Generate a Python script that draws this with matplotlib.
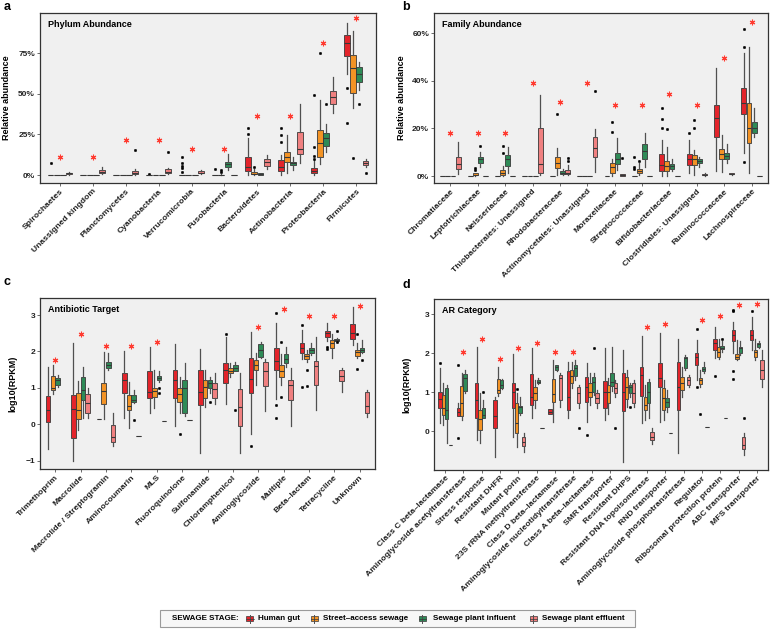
import matplotlib
matplotlib.use('Agg')
import matplotlib.pyplot as plt
from matplotlib.patches import Rectangle
from matplotlib.lines import Line2D

plt.rcParams['font.family'] = ['Liberation Sans', 'DejaVu Sans']

W, H = 773, 635
fig = plt.figure(figsize=(W / 100, H / 100), dpi=100)

GROUPS = ['Human gut', 'Street\u2013access sewage', 'Sewage plant influent', 'Sewage plant effluent']
COLORS = ['#E3242B', '#F39325', '#2E8B57', '#F08080']
EDGE = '#383838'
WHISK = '#505050'
BG = '#F0F0F0'
STAR = '#FF3B30'

# ---------------- Panel a: Phylum abundance (%) ----------------
a_cats = ['Spirochaetes', 'Unassigned kingdom', 'Planctomycetes', 'Cyanobacteria', 'Verrucomicrobia',
          'Fusobacteria', 'Bacteroidetes', 'Actinobacteria', 'Proteobacteria', 'Firmicutes']
# (whisker low, q1, median, q3, whisker high)
a_gut = [(0, 0, 0, 0, 0), (0, 0, 0, 0, 0), (0, 0, 0, 0, 0), (0, 0, 0, 0, 0), (0, 0, 0, 0, 0),
         (0, 0, 0, 0, 0), (0, 2.7, 5.1, 11.3, 22.6), (0, 2.3, 4.7, 9.2, 12.3), (0, 1.0, 2.7, 4.5, 9.0),
         (62, 73.3, 81.1, 86.2, 93.4)]
a_gut_out = [[7.5], [], [], [0.8], [11.3, 7.2, 5.7, 4.1, 2.0], [3.5], [29.2, 25.0], [28.7, 24.6, 20.5],
             [49.3, 17.5, 12.0, 10.0], [53.8, 31.8]]
a_street = [(0, 0, 0, 0, 0), (0, 0, 0, 0, 0), (0, 0, 0, 0, 0), (0, 0, 0, 0, 0), (0, 0, 0, 0, 0),
            (0, 0, 0, 0.3, 0.8), (0, 0.4, 0.8, 1.6, 3.5), (1.0, 8.2, 11.3, 14.4, 24.6),
            (6.8, 11.3, 19.9, 27.7, 46.0), (41.0, 50.3, 65.7, 73.9, 88.9)]
a_street_out = [[], [], [], [], [], [3.0, 2.0], [5.1], [], [75.0], [10.3]]
a_infl = [(0, 0, 0, 0, 0), (0, 0, 0, 0, 0), (0, 0, 0, 0, 0), (0, 0, 0, 0, 0), (0, 0, 0, 0, 0),
          (3.0, 5.1, 6.8, 7.8, 12.7), (0, 0.3, 0.5, 1.0, 1.5), (3.1, 6.2, 7.2, 8.2, 11.3),
          (14.4, 18.0, 23.0, 26.0, 31.4), (52.4, 57.5, 62.2, 66.3, 69.8)]
a_infl_out = [[], [], [], [], [], [], [], [], [43.5], [43.5]]
a_effl = [(0.2, 0.5, 1.0, 1.5, 2.0), (0.5, 1.0, 2.0, 3.0, 5.0), (0.3, 0.6, 1.5, 2.7, 4.0),
          (0.5, 1.0, 2.0, 3.5, 4.5), (0.5, 1.0, 1.5, 2.5, 3.0), (0, 0, 0, 0, 0),
          (3.7, 5.7, 7.8, 9.6, 12.3), (7.2, 12.9, 16.0, 26.3, 43.5), (38.0, 43.7, 48.2, 51.7, 60.6),
          (5.1, 6.2, 7.6, 8.8, 9.6)]
a_effl_out = [[], [], [15.4], [14.4], [], [], [], [], [], [1.4]]
a_stars = [11.3, 11.3, 21.4, 21.4, 16.2, 16.2, 36.1, 36.1, 81.5, 96.5]

# ---------------- Panel b: Family abundance (%) ----------------
b_cats = ['Chromatiaceae', 'Leptotrichiaceae', 'Neisseriaceae', 'Thiobacterales: Unassigned',
          'Rhodobacteraceae', 'Actinomycetales: Unassigned', 'Moraxellaceae', 'Streptococcaceae',
          'Bifidobacteriaceae', 'Clostridiales: Unassigned', 'Ruminococcaceae', 'Lachnospiraceae']
b_gut = [(0, 0, 0, 0, 0)] * 8 + [(0, 2.1, 4.6, 9.2, 15.1), (1.4, 4.6, 7.0, 9.2, 15.0),
                                 (2.1, 16.5, 24.6, 29.8, 45.2), (9.8, 25.9, 30.8, 37.1, 51.5)]
b_gut_out = [[], [], [], [], [], [], [], [8.1, 3.9, 2.8], [28.7, 23.8, 20.3], [18.2], [], [61.6, 54.3, 5.9]]
b_street = [(0, 0, 0, 0, 0), (0, 0.3, 0.5, 1.1, 1.5), (0, 0.3, 1.1, 2.4, 4.2), (0, 0, 0, 0, 0),
            (0.3, 3.2, 5.3, 8.1, 11.6), (0, 0, 0, 0, 0), (0, 1.4, 3.9, 5.6, 7.1), (0.3, 1.1, 2.1, 2.9, 5.3),
            (0, 2.2, 4.3, 6.4, 12.3), (0.5, 4.6, 7.0, 8.8, 11.0), (1.8, 7.0, 9.2, 11.3, 17.2),
            (1.1, 14.0, 20.0, 30.9, 54.3)]
b_street_out = [[], [2.5, 3.2], [12.7, 9.9], [], [25.9], [], [22.8, 18.6], [6.3], [19.6], [23.5, 20.3], [], []]
b_infl = [(0, 0, 0, 0, 0), (3.9, 5.3, 7.0, 8.1, 10.2), (1.1, 4.3, 7.0, 8.8, 12.3), (0, 0, 0, 0, 0),
          (0.5, 1.0, 1.5, 2.0, 3.0), (0, 0, 0, 0, 0), (2.5, 5.0, 7.0, 9.9, 16.1), (3.9, 7.0, 10.5, 13.3, 18.2),
          (2.0, 2.9, 4.3, 5.0, 7.0), (3.9, 5.3, 6.2, 7.0, 8.1), (5.6, 7.0, 8.5, 9.5, 13.3),
          (16.5, 17.9, 20.0, 22.8, 28.4)]
b_infl_out = [[], [12.7], [], [], [], [], [], [], [], [], [], []]
b_effl = [(0.7, 2.8, 5.0, 8.1, 14.4), (0, 0, 0, 0, 0), (0, 0, 0, 0, 0), (0.4, 1.1, 5.0, 20.0, 34.0),
          (0.3, 0.8, 1.5, 2.5, 4.6), (1.8, 8.1, 11.6, 16.5, 19.6), (0, 0.2, 0.5, 0.8, 1.0), (0, 0, 0, 0, 0),
          (0, 0, 0, 0, 0), (0, 0.3, 0.6, 1.0, 1.2), (0.5, 0.8, 1.0, 1.2, 1.5), (0, 0, 0, 0, 0)]
b_effl_out = [[], [], [], [], [7.5, 6.5], [35.7], [7.8], [], [], [], [], []]
b_stars = [18.2, 18.2, 18.2, 38.9, 31.2, 39.2, 29.8, 29.8, 34.3, 29.8, 49.8, 64.8]

# ---------------- Panel c: Antibiotic target, log10(RPKM) ----------------
c_cats = ['Trimethoprim', 'Macrolide', 'Macrolide / Streptogramin', 'Aminocoumarin', 'MLS',
          'Fluoroquinolone', 'Sulfonamide', 'Chloramphenicol', 'Aminoglycoside', 'Multiple',
          'Beta\u2013lactam', 'Tetracycline', 'Unknown']
c_gut = [(-0.68, 0.05, 0.38, 0.79, 1.58), (-1.0, -0.37, 0.41, 0.8, 2.24), (0.15, 0.15, 0.15, 0.15, 0.15),
         (0.18, 0.87, 1.22, 1.42, 2.02), (0.3, 0.71, 0.88, 1.46, 2.13), (-0.05, 0.73, 1.22, 1.49, 2.2),
         (-0.78, 0.53, 0.9, 1.49, 2.06), (0.56, 1.14, 1.49, 1.67, 2.4), (-0.27, 0.87, 1.24, 1.81, 2.53),
         (0.69, 1.49, 1.74, 2.09, 2.77), (1.78, 1.95, 2.1, 2.24, 2.59), (2.3, 2.41, 2.5, 2.57, 2.77),
         (2.18, 2.34, 2.5, 2.75, 3.23)]
c_gut_out = [[], [], [], [], [], [], [], [2.48], [-0.6], [3.05, 0.53, 0.16], [2.73, 1.02], [2.13, 2.06], []]
c_street = [(0.83, 0.94, 1.01, 1.33, 1.63), (-0.15, 0.15, 0.4, 0.87, 1.2), (0.15, 0.55, 0.91, 1.13, 1.99),
            (-0.09, 0.38, 0.5, 0.8, 1.17), (0.44, 0.76, 0.92, 1.01, 1.49), (0.32, 0.62, 0.83, 0.99, 1.31),
            (0.48, 0.71, 1.02, 1.22, 1.49), (1.31, 1.4, 1.47, 1.54, 1.67), (1.08, 1.49, 1.63, 1.77, 1.95),
            (1.08, 1.29, 1.45, 1.63, 1.92), (1.72, 1.78, 1.88, 1.93, 2.04), (1.81, 2.09, 2.24, 2.31, 2.48),
            (1.81, 1.88, 1.98, 2.04, 2.24)]
c_street_out = [[], [], [], [], [], [-0.27], [], [], [], [2.27, 0.76], [1.49, 1.05], [], [2.48, 1.51]]
c_infl = [(1.03, 1.08, 1.22, 1.26, 1.35), (0.16, 0.67, 0.94, 1.31, 1.58), (1.49, 1.54, 1.63, 1.72, 1.95),
          (0.58, 0.62, 0.67, 0.8, 0.94), (1.17, 1.22, 1.26, 1.33, 1.45), (0.23, 0.3, 0.99, 1.22, 1.67),
          (0.85, 0.99, 1.13, 1.22, 1.31), (1.45, 1.47, 1.54, 1.63, 1.72), (1.81, 1.86, 2.04, 2.2, 2.27),
          (1.58, 1.67, 1.78, 1.93, 2.13), (1.9, 1.95, 2.04, 2.09, 2.24), (2.27, 2.29, 2.31, 2.34, 2.36),
          (1.95, 1.98, 2.04, 2.09, 2.31)]
c_infl_out = [[], [], [], [0.12], [0.99, 0.87], [], [0.6], [0.39], [], [], [], [2.57, 2.27], [1.77]]
c_effl = [None, (0.16, 0.3, 0.58, 0.82, 0.99), (-0.61, -0.5, -0.34, -0.02, 0.3), (-0.31,) * 5, (0.1,) * 5,
          (0.12,) * 5, (0.56, 0.71, 0.96, 1.14, 1.4), (-0.78, -0.05, 0.48, 0.96, 1.4),
          (0.37, 1.05, 1.47, 1.72, 1.78), (-0.05, 0.67, 1.08, 1.22, 1.54), (0.39, 1.08, 1.6, 1.74, 2.41),
          (0.9, 1.19, 1.33, 1.49, 1.54), (0.19, 0.3, 0.5, 0.88, 0.94)]
c_effl_out = [[] for _ in c_cats]
c_stars = [1.77, 2.47, 2.16, 2.16, 2.27, None, None, None, 2.66, 3.16, 2.97, 2.97, 3.26]

# ---------------- Panel d: AR category, log10(RPKM) ----------------
d_cats = ['Class C beta\u2013lactamase', 'Aminoglycoside acetyltransferase', 'Stress response',
          'Resistant DHFR', 'Mutant porin', '23S rRNA methyltransferase', 'Class D beta\u2013lactamase',
          'Aminoglycoside nucleotidyltransferase', 'Class A beta\u2013lactamase', 'SMR transporter',
          'Resistant DHPS', 'Resistant DNA topoisomerase', 'RND transporter',
          'Aminoglycoside phosphotransferase', 'Regulator', 'Ribosomal protection protein',
          'ABC transporter', 'MFS transporter']
d_gut = [(0.2, 0.58, 0.81, 1.01, 1.61), (0.39, 0.39, 0.5, 0.58, 0.71), (-0.23, 0.33, 0.8, 1.24, 2.17),
         (-0.66, 0.07, 0.39, 0.8, 0.88), (-0.15, 0.58, 0.99, 1.23, 1.97), (0.33, 0.67, 0.88, 1.47, 2.14),
         (0.45, 0.45, 0.5, 0.57, 0.57), (0.33, 0.54, 0.88, 1.53, 1.78), (0.24, 0.75, 1.12, 1.38, 1.74),
         (0.28, 0.58, 0.99, 1.29, 2.13), (-0.8, 0.51, 1.01, 1.48, 2.08), (0.2, 0.9, 1.44, 1.65, 2.43),
         (0.24, 1.14, 1.35, 1.74, 2.51), (-0.56, 0.54, 1.14, 1.78, 2.36), (1.31, 1.7, 1.91, 2.01, 2.34),
         (1.87, 2.08, 2.25, 2.36, 2.68), (2.0, 2.3, 2.47, 2.6, 2.81), (2.08, 2.34, 2.47, 2.6, 2.94)]
d_gut_out = [[1.74], [1.7, -0.17], [], [], [], [], [], [], [-0.1], [], [], [], [], [], [2.61, 1.12],
             [1.41], [3.11, 3.07, 1.53, 1.33], [3.09]]
d_street = [(0.15, 0.41, 0.58, 0.93, 1.23), (0.28, 0.39, 0.71, 1.16, 1.5), (-0.3, 0.03, 0.3, 0.54, 0.97),
            (0.9, 0.97, 1.05, 1.34, 1.65), (-0.4, -0.06, 0.2, 0.71, 0.97), (0.58, 0.8, 0.97, 1.12, 1.31),
            (0.24, 0.75, 0.94, 1.33, 1.83), (1.1, 1.23, 1.41, 1.57, 1.78), (0.67, 0.88, 1.01, 1.23, 1.48),
            (0.45, 0.71, 0.99, 1.18, 1.35), (0.63, 0.81, 1.12, 1.38, 1.57), (0.28, 0.54, 0.67, 0.88, 1.18),
            (0.28, 0.54, 0.84, 1.1, 1.31), (0.87, 1.05, 1.23, 1.4, 1.65), (1.12, 1.21, 1.31, 1.35, 1.57),
            (1.84, 1.89, 2.04, 2.17, 2.36), (1.82, 1.84, 1.91, 1.97, 2.34), (1.83, 1.89, 2.02, 2.08, 2.36)]
d_street_out = [[], [], [], [], [1.07], [], [], [], [], [], [], [], [], [], [0.43], [], [], []]
d_infl = [(-0.3, 0.3, 0.54, 1.1, 1.18), (0.97, 1.04, 1.35, 1.47, 1.57), (0.33, 0.33, 0.41, 0.58, 0.8),
          (1.08, 1.1, 1.18, 1.31, 1.33), (0.41, 0.47, 0.63, 0.64, 0.88), (1.2, 1.23, 1.27, 1.31, 1.35),
          (1.55, 1.57, 1.65, 1.7, 1.7), (1.31, 1.41, 1.61, 1.7, 1.83), (0.93, 1.01, 1.27, 1.38, 1.48),
          (1.04, 1.16, 1.27, 1.5, 2.17), (0.88, 0.97, 1.12, 1.18, 1.23), (0.33, 0.71, 1.01, 1.27, 1.33),
          (0.5, 0.61, 0.75, 0.84, 1.05), (1.57, 1.61, 1.87, 1.91, 1.95), (1.5, 1.54, 1.6, 1.65, 1.78),
          (2.04, 2.1, 2.14, 2.18, 2.3), (1.95, 2.0, 2.13, 2.17, 2.3), (2.12, 2.15, 2.23, 2.27, 2.3)]
d_infl_out = [[], [], [1.01], [], [], [], [], [], [2.14], [], [0.61], [], [], [], [], [2.36], [], []]
d_effl = [(-0.36,) * 5, None, None, None, (-0.53, -0.39, -0.27, -0.15, -0.06), (0.09,) * 5,
          (0.63, 0.8, 1.35, 1.44, 1.48), (0.58, 0.71, 0.97, 1.12, 1.18), (0.6, 0.71, 0.84, 0.97, 1.05),
          (0.88, 0.97, 1.1, 1.23, 1.31), (0.63, 0.71, 0.97, 1.23, 1.31), (-0.32, -0.23, -0.15, -0.02, 0.07),
          (-0.06,) * 5, (1.12, 1.18, 1.31, 1.4, 1.45), (0.11,) * 5, (0.34,) * 5,
          (-0.62, -0.47, -0.36, -0.15, -0.06), (1.14, 1.33, 1.57, 1.83, 2.08)]
d_effl_out = [[], [], [], [], [], [], [], [0.09], [], [0.09], [], [], [], [], [], [], [0.33], []]
d_stars = [None, 2.04, 2.36, 1.84, 2.14, 2.25, 2.04, 2.04, None, None, None, 2.66, 2.74, None, 2.85, 2.96,
           3.24, 3.26]

SLOT = 0.1875
BOXW = 0.18


def rect(x0, y0, x1, y1):
    return [x0 / W, 1 - y1 / H, (x1 - x0) / W, (y1 - y0) / H]


def panel(r, cats, groups, outs, stars, ylim, yticks, yticklabels, ylabel, title, ylab_px):
    ax = fig.add_axes(r)
    ax.set_facecolor(BG)
    n = len(cats)
    for g, (stats, fl, col) in enumerate(zip(groups, outs, COLORS)):
        off = (g - 1.5) * SLOT
        bst, pos = [], []
        for i, s in enumerate(stats):
            if s is None:
                continue
            lo, q1, med, q3, hi = s
            bst.append(dict(whislo=lo, q1=q1, med=med, q3=q3, whishi=hi, fliers=fl[i]))
            pos.append(i + 1 + off)
        ax.bxp(bst, positions=pos, widths=BOXW, patch_artist=True, showcaps=False, manage_ticks=False,
               boxprops=dict(facecolor=col, edgecolor=EDGE, linewidth=0.6),
               whiskerprops=dict(color=WHISK, linewidth=0.9),
               medianprops=dict(color=EDGE, linewidth=0.8),
               flierprops=dict(marker='o', markersize=1.8, markerfacecolor='black',
                               markeredgecolor='black', markeredgewidth=0.3))
    xs = [i + 1 for i, s in enumerate(stars) if s is not None]
    ys = [s for s in stars if s is not None]
    ax.plot(xs, ys, ls='none', marker=(6, 2, 0), ms=4, mew=0.8, color=STAR, zorder=5)
    ax.set_xlim(0.4, n + 0.6)
    ax.set_ylim(*ylim)
    ax.set_xticks(range(1, n + 1))
    ax.set_xticklabels(cats, rotation=45, ha='right', va='top', rotation_mode='anchor',
                       fontsize=6.1, fontweight='bold', color='#222222')
    ax.set_yticks(yticks)
    ax.set_yticklabels(yticklabels, fontsize=6, fontweight='bold', color='#222222')
    ax.tick_params(length=2, width=0.5, color='#333333', pad=1.5)
    for sp in ax.spines.values():
        sp.set_color('#333333')
        sp.set_linewidth(0.9)
    # y-axis title, centred at a fixed pixel x position
    fig.text(ylab_px / W, r[1] + r[3] / 2, ylabel, rotation=90, fontsize=6.5, fontweight='bold',
             ha='center', va='center')
    ax.text(0.024, 0.935, title, transform=ax.transAxes, fontsize=6.5, fontweight='bold', va='center')
    return ax


panel(rect(40, 13, 376, 183), a_cats, [a_gut, a_street, a_infl, a_effl],
      [a_gut_out, a_street_out, a_infl_out, a_effl_out], a_stars, (-4.9, 99.7), [0, 25, 50, 75],
      ['0%', '25%', '50%', '75%'], 'Relative abundance', 'Phylum Abundance', 7)
panel(rect(434, 13, 768, 183), b_cats, [b_gut, b_street, b_infl, b_effl],
      [b_gut_out, b_street_out, b_infl_out, b_effl_out], b_stars, (-2.9, 68.5), [0, 20, 40, 60],
      ['0%', '20%', '40%', '60%'], 'Relative abundance', 'Family Abundance', 401)
panel(rect(40, 298, 375, 469), c_cats, [c_gut, c_street, c_infl, c_effl],
      [c_gut_out, c_street_out, c_infl_out, c_effl_out], c_stars, (-1.23, 3.47), [-1, 0, 1, 2, 3],
      ['\u22121', '0', '1', '2', '3'], 'log10(RPKM)', 'Antibiotic Target', 13)
panel(rect(434, 299, 768, 470), d_cats, [d_gut, d_street, d_infl, d_effl],
      [d_gut_out, d_street_out, d_infl_out, d_effl_out], d_stars, (-1.0, 3.39), [0, 1, 2, 3],
      ['0', '1', '2', '3'], 'log10(RPKM)', 'AR Category', 407)

for letter, x, y in [('a', 7, 7), ('b', 406, 7), ('c', 7, 282), ('d', 406, 285)]:
    fig.text(x / W, 1 - y / H, letter, fontsize=9, fontweight='bold', ha='center', va='center')

# ---------------- Legend ----------------
LX0, LX1, LY0, LY1 = 160, 635, 610, 627
fig.patches.append(Rectangle((LX0 / W, 1 - LY1 / H), (LX1 - LX0) / W, (LY1 - LY0) / H,
                             transform=fig.transFigure, facecolor='#F7F7F7', edgecolor='#9A9A9A',
                             linewidth=0.8))
ymid = (LY0 + LY1) / 2
fig.text(239 / W, 1 - ymid / H, 'SEWAGE STAGE:', fontsize=5.8, fontweight='bold', ha='right', va='center')
key_x = [250, 314, 422, 533]
lab_x = [258, 323, 433, 542]
for kx, lx, col, name in zip(key_x, lab_x, COLORS, GROUPS):
    fig.lines.append(Line2D([kx / W, kx / W], [1 - (ymid - 4) / H, 1 - (ymid + 4) / H],
                            transform=fig.transFigure, color=WHISK, linewidth=0.7))
    fig.patches.append(Rectangle(((kx - 3.5) / W, 1 - (ymid + 2.5) / H), 7 / W, 5 / H,
                                 transform=fig.transFigure, facecolor=col, edgecolor=EDGE, linewidth=0.5))
    fig.lines.append(Line2D([(kx - 3.5) / W, (kx + 3.5) / W], [1 - ymid / H, 1 - ymid / H],
                            transform=fig.transFigure, color=EDGE, linewidth=0.5))
    fig.text(lx / W, 1 - ymid / H, name, fontsize=5.8, fontweight='bold', ha='left', va='center')

fig.savefig('out.png', dpi=100)
